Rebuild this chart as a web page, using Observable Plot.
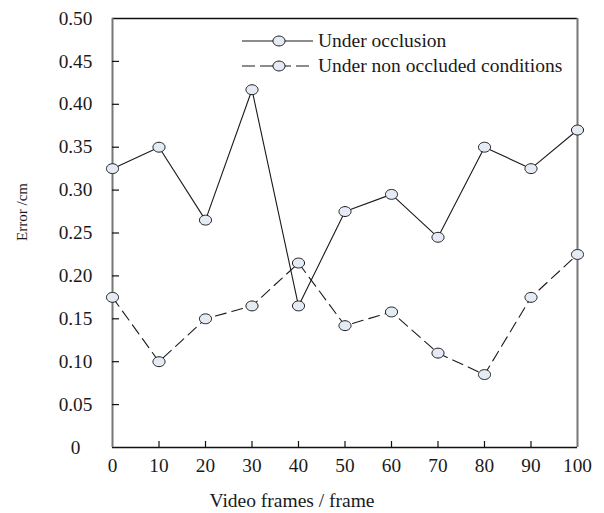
<!DOCTYPE html>
<html>
<head>
<meta charset="utf-8">
<script src="https://cdn.jsdelivr.net/npm/d3@7"></script>
<script src="https://cdn.jsdelivr.net/npm/@observablehq/plot@0.6"></script>
<style>
  html, body { margin: 0; padding: 0; background: #fff; }
  #chart { position: relative; width: 604px; height: 513px; font-family: "Liberation Serif", "Times New Roman", serif; }
  #chart svg { position: absolute; left: 0; top: 0; }
</style>
</head>
<body>
<div id="chart"></div>
<script>
// ---- data ----
const frames = [0, 10, 20, 30, 40, 50, 60, 70, 80, 90, 100];
const underOcclusion = [0.325, 0.350, 0.265, 0.417, 0.165, 0.275, 0.295, 0.245, 0.350, 0.325, 0.370];
const underNonOccluded = [0.175, 0.100, 0.150, 0.165, 0.215, 0.142, 0.158, 0.110, 0.085, 0.175, 0.225];
const seriesNames = ["Under occlusion", "Under non occluded conditions"];
const yTicks = [0, 0.05, 0.10, 0.15, 0.20, 0.25, 0.30, 0.35, 0.40, 0.45, 0.50];
const yTickLabels = ["0", "0.05", "0.10", "0.15", "0.20", "0.25", "0.30", "0.35", "0.40", "0.45", "0.50"];
const xTicks = [0, 10, 20, 30, 40, 50, 60, 70, 80, 90, 100];
const xTickLabels = ["0", "10", "20", "30", "40", "50", "60", "70", "80", "90", "100"];
const xTitle = "Video frames / frame";
const yTitle = "Error /cm";

// ---- build ----
const rows = [];
frames.forEach((f, i) => {
  rows.push({frame: f, value: underOcclusion[i], series: seriesNames[0]});
  rows.push({frame: f, value: underNonOccluded[i], series: seriesNames[1]});
});
const occRows = rows.filter(d => d.series === seriesNames[0]);
const nonRows = rows.filter(d => d.series === seriesNames[1]);

const ellipse = {
  draw(ctx, size) {
    const r = Math.sqrt(size / Math.PI);
    const rx = r * 1.1, ry = r * 0.9, k = 0.5523;
    ctx.moveTo(rx, 0);
    ctx.bezierCurveTo(rx, ry * k, rx * k, ry, 0, ry);
    ctx.bezierCurveTo(-rx * k, ry, -rx, ry * k, -rx, 0);
    ctx.bezierCurveTo(-rx, -ry * k, -rx * k, -ry, 0, -ry);
    ctx.bezierCurveTo(rx * k, -ry, rx, -ry * k, rx, 0);
    ctx.closePath();
  }
};

const W = 604, H = 513;
const mL = 112, mR = 27, mT = 18, mB = 66;
const innerW = W - mL - mR, innerH = H - mT - mB;
const font = '"Liberation Serif", "Times New Roman", serif';
const dotFill = "#e4ebf5", ink = "#1a1a1a";

const chart = Plot.plot({
  width: W, height: H,
  marginLeft: mL, marginRight: mR, marginTop: mT, marginBottom: mB,
  style: {fontFamily: font, fontSize: "19px", color: ink, background: "#fff"},
  x: {domain: [0, 100]},
  y: {domain: [0, 0.5]},
  marks: [
    Plot.ruleY([0, 0.5], {stroke: "#111", strokeWidth: 1.3}),
    Plot.ruleX([0, 100], {stroke: "#777", strokeWidth: 2}),
    Plot.tickY(yTicks.slice(1, -1), {y: d => d, stroke: "#111", strokeWidth: 1.2, insetRight: innerW - 7}),
    Plot.tickX(xTicks.slice(1, -1), {x: d => d, stroke: "#111", strokeWidth: 1.2, insetTop: innerH - 6}),
    Plot.axisY({ticks: yTicks, tickFormat: (d, i) => yTickLabels[i], tickSize: 0, tickPadding: 37,
      textAnchor: "middle", fontSize: 19.3, label: null}),
    Plot.axisX({ticks: xTicks, tickFormat: (d, i) => xTickLabels[i], tickSize: 0, tickPadding: 10.5,
      fontSize: 19.3, label: null}),
    Plot.line(nonRows, {x: "frame", y: "value", stroke: ink, strokeWidth: 1.1, strokeDasharray: "11,6"}),
    Plot.line(occRows, {x: "frame", y: "value", stroke: ink, strokeWidth: 1.1}),
    Plot.dot(rows, {x: "frame", y: "value", r: 5.5, symbol: ellipse, fill: dotFill, stroke: ink, strokeWidth: 1})
  ]
});

const container = document.getElementById("chart");
container.appendChild(chart);

// ---- overlay: legend and axis titles ----
const overlay = d3.create("svg")
  .attr("width", W).attr("height", H)
  .style("pointer-events", "none")
  .style("font-family", font);

const legendItems = [
  {name: seriesNames[0], dash: null, y: 41},
  {name: seriesNames[1], dash: "13,5", y: 66}
];
const lx0 = 242, lx1 = 313, lcx = 279, ltx = 318;
legendItems.forEach(it => {
  const g = overlay.append("g");
  g.append("line").attr("x1", lx0).attr("x2", lx1).attr("y1", it.y).attr("y2", it.y)
    .attr("stroke", ink).attr("stroke-width", 1.1)
    .attr("stroke-dasharray", it.dash);
  const p = d3.path();
  ellipse.draw(p, Math.PI * 5.5 * 5.5);
  g.append("path").attr("d", p.toString()).attr("transform", `translate(${lcx},${it.y})`)
    .attr("fill", dotFill).attr("stroke", ink).attr("stroke-width", 1);
  g.append("text").attr("x", ltx).attr("y", it.y).attr("dy", "0.32em")
    .attr("font-size", 19.5).attr("fill", ink).text(it.name);
});

overlay.append("text")
  .attr("transform", "translate(22,212) rotate(-90)")
  .attr("text-anchor", "middle").attr("dy", "0.35em")
  .attr("font-size", 15).attr("fill", ink).text(yTitle);

overlay.append("text")
  .attr("x", 292).attr("y", 507)
  .attr("text-anchor", "middle")
  .attr("font-size", 19.5).attr("fill", ink).text(xTitle);

container.appendChild(overlay.node());
</script>
</body>
</html>
